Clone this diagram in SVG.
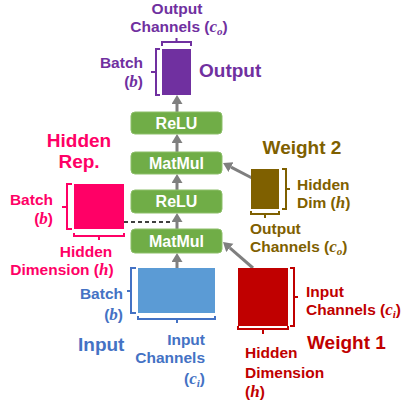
<svg xmlns="http://www.w3.org/2000/svg" width="406" height="406" viewBox="0 0 406 406">
<style>
text{font-family:"Liberation Sans",Arial,sans-serif;font-weight:bold}
.s{font-size:15.5px}
.b{font-size:19px}
.m{font-family:"Liberation Serif","DejaVu Serif",serif;font-style:italic;font-weight:bold;font-size:17px}
.sub{font-size:11px}
.node rect{fill:#70AD47;stroke:#8DBF6A;stroke-width:1}
.node text{fill:#fff;font-size:16px;text-anchor:middle}
.br{fill:none;stroke-width:2}
.pu{fill:#7030A0}.puS{stroke:#7030A0}
.pk{fill:#FF0066}.pkS{stroke:#FF0066}
.bn{fill:#7F6000}.bnS{stroke:#7F6000}
.bl{fill:#4472C4}.blS{stroke:#4472C4}
.rd{fill:#C00000}.rdS{stroke:#C00000}
.c line{stroke:#7F7F7F;stroke-width:3;marker-end:url(#ah)}
</style>
<defs>
<marker id="ah" markerUnits="userSpaceOnUse" markerWidth="10" markerHeight="12" refX="0" refY="5.5" orient="auto">
<path d="M0,0 L9,5.5 L0,11 z" fill="#7F7F7F"/>
</marker>
</defs>

<g id="connectors" class="c">
<line x1="177" y1="112" x2="177" y2="104"/>
<line x1="177" y1="152" x2="177" y2="143"/>
<line x1="177" y1="190" x2="177" y2="183"/>
<line x1="177" y1="229" x2="177" y2="222"/>
<line x1="177" y1="268" x2="177" y2="262"/>
<line x1="252" y1="178" x2="231" y2="167.1"/>
<line x1="253" y1="268" x2="229.8" y2="247.9"/>
<path d="M124,222 H170" stroke="#000" stroke-width="1.5" stroke-dasharray="4,3" fill="none"/>
</g>

<g id="relu2" class="node"><rect x="131" y="112" width="91" height="22" rx="4"/><text x="176.5" y="128.5">ReLU</text></g>
<g id="matmul2" class="node"><rect x="131" y="152" width="91" height="22" rx="4"/><text x="176.5" y="168.5">MatMul</text></g>
<g id="relu1" class="node"><rect x="131" y="190" width="91" height="23" rx="4"/><text x="176.5" y="207">ReLU</text></g>
<g id="matmul1" class="node"><rect x="131" y="229" width="91" height="24" rx="4"/><text x="176.5" y="246.5">MatMul</text></g>

<g id="output">
<rect x="162" y="49" width="29" height="46" fill="#7030A0"/>
<path class="br puS" d="M160,49 h-4 v46 h4 M156,72 h-5 M162,46 v-4 h29 v4 M176.5,42 v-4"/>
<text class="s pu" x="177" y="14" text-anchor="middle">Output</text>
<text class="s pu" x="179" y="32" text-anchor="middle">Channels (<tspan class="m">c</tspan><tspan class="m sub" dy="3">o</tspan><tspan dy="-3">)</tspan></text>
<text class="s pu" x="143" y="68" text-anchor="end">Batch</text>
<text class="s pu" x="143" y="87" text-anchor="end">(<tspan class="m">b</tspan>)</text>
<text class="b pu" x="199" y="77">Output</text>
</g>

<g id="hidden">
<rect x="74" y="184" width="50" height="45" fill="#FF0066"/>
<path class="br pkS" d="M72,184 h-5 v45 h5 M67,207 h-5 M74,233 v3 h50 v-3 M99,236 v4"/>
<text class="b pk" x="79" y="147" text-anchor="middle">Hidden</text>
<text class="b pk" x="79" y="168" text-anchor="middle">Rep.</text>
<text class="s pk" x="53" y="205" text-anchor="end">Batch</text>
<text class="s pk" x="53" y="224" text-anchor="end">(<tspan class="m">b</tspan>)</text>
<text class="s pk" x="86" y="257" text-anchor="middle">Hidden</text>
<text class="s pk" x="62" y="275" text-anchor="middle">Dimension (<tspan class="m">h</tspan>)</text>
</g>

<g id="weight2">
<rect x="251" y="169" width="28" height="40" fill="#7F6000"/>
<path class="br bnS" d="M282,169 h4 v40 h-4 M286,189 h4 M251,211 v3 h28 v-3 M265,214 v4"/>
<text class="b bn" x="302" y="154" text-anchor="middle">Weight 2</text>
<text class="s bn" x="297" y="190">Hidden</text>
<text class="s bn" x="297" y="208">Dim (<tspan class="m">h</tspan>)</text>
<text class="s bn" x="250" y="234">Output</text>
<text class="s bn" x="250" y="252">Channels (<tspan class="m">c</tspan><tspan class="m sub" dy="3">o</tspan><tspan dy="-3">)</tspan></text>
</g>

<g id="input">
<rect x="138" y="268" width="77" height="45" fill="#5B9BD5"/>
<path class="br blS" d="M136,268 h-5 v45 h5 M131,291 h-4 M138,316 v3 h77 v-3 M177,319 v4"/>
<text class="s bl" x="123" y="299" text-anchor="end">Batch</text>
<text class="s bl" x="123" y="320" text-anchor="end">(<tspan class="m">b</tspan>)</text>
<text class="b bl" x="78" y="351">Input</text>
<text class="s bl" x="205" y="345" text-anchor="end">Input</text>
<text class="s bl" x="205" y="363" text-anchor="end">Channels</text>
<text class="s bl" x="205" y="384" text-anchor="end">(<tspan class="m">c</tspan><tspan class="m sub" dy="3">i</tspan><tspan dy="-3">)</tspan></text>
</g>

<g id="weight1">
<rect x="238" y="268" width="50" height="58" fill="#C00000"/>
<path class="br rdS" d="M290,268 h4 v58 h-4 M294,297 h4 M238,326 v3 h50 v-3 M263,329 v5"/>
<text class="s rd" x="306" y="297">Input</text>
<text class="s rd" x="306" y="315">Channels (<tspan class="m">c</tspan><tspan class="m sub" dy="3">i</tspan><tspan dy="-3">)</tspan></text>
<text class="b rd" x="307" y="349">Weight 1</text>
<text class="s rd" x="245" y="358">Hidden</text>
<text class="s rd" x="245" y="378">Dimension</text>
<text class="s rd" x="245" y="397">(<tspan class="m">h</tspan>)</text>
</g>
</svg>
